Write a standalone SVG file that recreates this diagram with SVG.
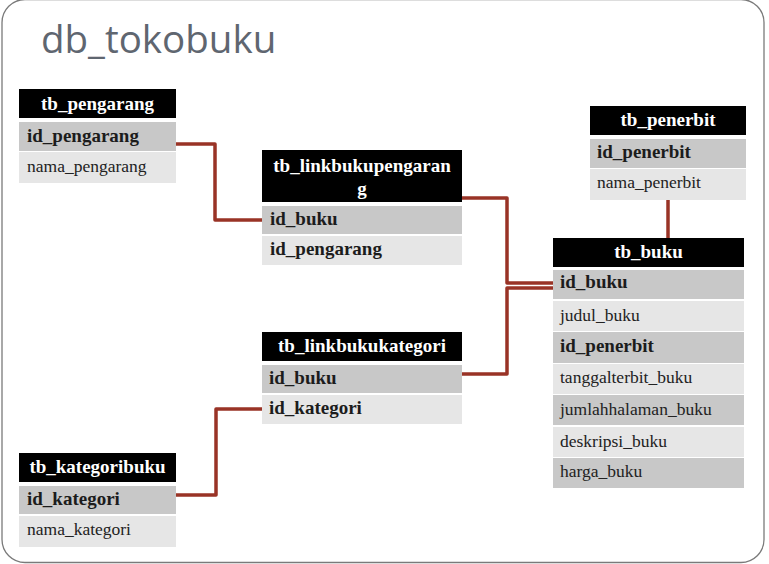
<svg xmlns="http://www.w3.org/2000/svg" width="769" height="564" viewBox="0 0 769 564">
<style>
.frame{fill:#fff;stroke:#7a7a7a;stroke-width:1.3}
.title{font-family:"Open Sans","Liberation Sans",sans-serif;font-size:38.5px;fill:#5f6670}
.hdr{fill:#000}
.k{fill:#c8c8c8}
.l{fill:#e6e6e6}
.ht{font-family:"Liberation Serif",serif;font-weight:bold;font-size:19px;fill:#fff;text-anchor:middle}
.b{font-family:"Liberation Serif",serif;font-weight:bold;font-size:19px;fill:#1c1c1c}
.r{font-family:"Liberation Serif",serif;font-size:17.5px;fill:#222}
.conn{fill:none;stroke:#993326;stroke-width:3.5;stroke-linejoin:round}
</style>
<rect class="frame" x="2" y="-0.5" width="762" height="563" rx="23" ry="23"/>
<text class="title" x="41" y="53">db_tokobuku</text>

<g id="connectors">
<path class="conn" d="M176,144 H215 V220 H262"/>
<path class="conn" d="M462,198 H507 V283 H553"/>
<path class="conn" d="M462,374 H507 V288 H553"/>
<path class="conn" d="M262,409 H216 V495 H172"/>
<path class="conn" d="M668,200 V238"/>
</g>

<g id="tb_pengarang">
<rect class="hdr" x="19" y="89" width="157" height="29"/>
<text class="ht" x="97.5" y="110">tb_pengarang</text>
<rect class="k" x="19" y="122" width="157" height="29"/>
<text class="b" x="27" y="142">id_pengarang</text>
<rect class="l" x="19" y="152" width="157" height="31"/>
<text class="r" x="27" y="172">nama_pengarang</text>
</g>

<g id="tb_linkbukupengarang">
<rect class="hdr" x="262" y="150" width="200" height="52"/>
<text class="ht" x="362" y="172">tb_linkbukupengaran</text>
<text class="ht" x="362" y="195">g</text>
<rect class="k" x="262" y="206" width="200" height="28"/>
<text class="b" x="270" y="225">id_buku</text>
<rect class="l" x="262" y="236" width="200" height="29"/>
<text class="b" x="270" y="255">id_pengarang</text>
</g>

<g id="tb_penerbit">
<rect class="hdr" x="590" y="106" width="156" height="29"/>
<text class="ht" x="668" y="126">tb_penerbit</text>
<rect class="k" x="590" y="139" width="156" height="29"/>
<text class="b" x="597" y="158">id_penerbit</text>
<rect class="l" x="590" y="169" width="156" height="31"/>
<text class="r" x="597" y="188">nama_penerbit</text>
</g>

<g id="tb_buku">
<rect class="hdr" x="553" y="238" width="191" height="29"/>
<text class="ht" x="648.5" y="258">tb_buku</text>
<rect class="k" x="553" y="270" width="191" height="29"/>
<text class="b" x="560" y="288">id_buku</text>
<rect class="l" x="553" y="301" width="191" height="30"/>
<text class="r" x="560" y="321">judul_buku</text>
<rect class="k" x="553" y="332" width="191" height="31"/>
<text class="b" x="560" y="352">id_penerbit</text>
<rect class="l" x="553" y="364" width="191" height="30"/>
<text class="r" x="560" y="383">tanggalterbit_buku</text>
<rect class="k" x="553" y="395" width="191" height="30"/>
<text class="r" x="560" y="415">jumlahhalaman_buku</text>
<rect class="l" x="553" y="427" width="191" height="30"/>
<text class="r" x="560" y="447">deskripsi_buku</text>
<rect class="k" x="553" y="458" width="191" height="30"/>
<text class="r" x="560" y="477">harga_buku</text>
</g>

<g id="tb_linkbukukategori">
<rect class="hdr" x="262" y="332" width="200" height="29"/>
<text class="ht" x="362" y="352">tb_linkbukukategori</text>
<rect class="k" x="262" y="365" width="200" height="28"/>
<text class="b" x="269" y="384">id_buku</text>
<rect class="l" x="262" y="395" width="200" height="29"/>
<text class="b" x="269" y="414">id_kategori</text>
</g>

<g id="tb_kategoribuku">
<rect class="hdr" x="19" y="453" width="157" height="29"/>
<text class="ht" x="97.5" y="473">tb_kategoribuku</text>
<rect class="k" x="19" y="486" width="157" height="28"/>
<text class="b" x="27" y="505">id_kategori</text>
<rect class="l" x="19" y="516" width="157" height="31"/>
<text class="r" x="27" y="535">nama_kategori</text>
</g>
</svg>
